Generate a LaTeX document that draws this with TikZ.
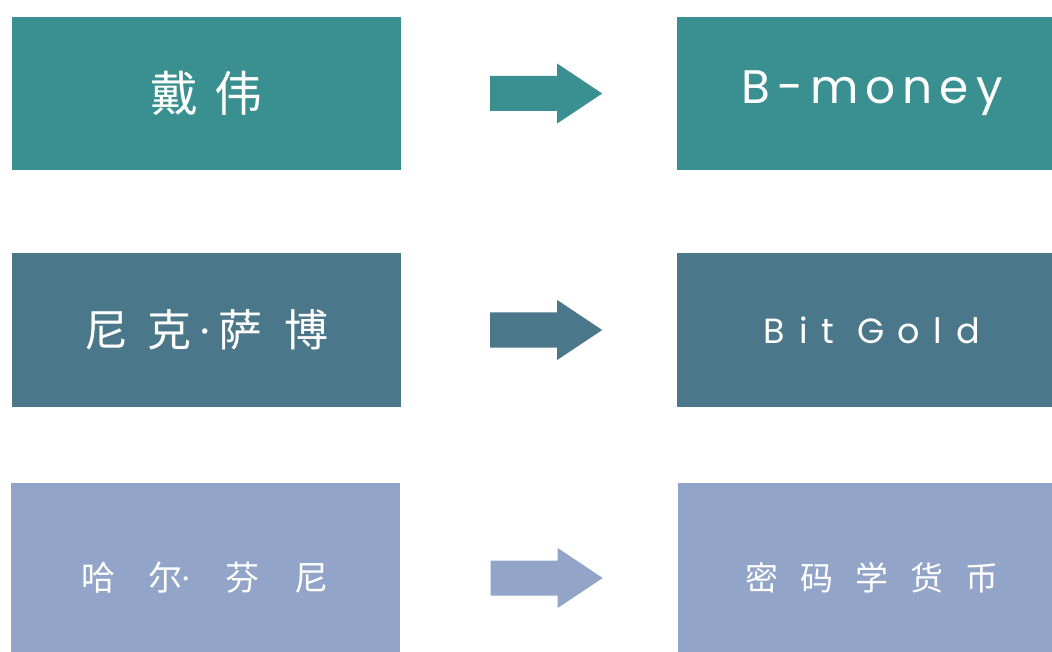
\documentclass[tikz,border=0pt]{standalone}
\usepackage{fontspec}
\usepackage{tikz}
\usetikzlibrary{positioning}
\newfontfamily\cjkfont{Noto Sans CJK SC}
\newfontfamily\latinfont{Poppins}
\definecolor{tealrow}{HTML}{3A8F90}
\definecolor{slaterow}{HTML}{4A7789}
\definecolor{lilacrow}{HTML}{93A4C9}

\tikzset{
    namebox/.style={minimum width=389pt,minimum height=153pt,inner sep=0pt,text=white},
    blockarrow/.pic={
        \path[pic actions] (0,-17.5) -- (67,-17.5) -- (67,-30) -- (112,0)
            -- (67,30) -- (67,17.5) -- (0,17.5) -- cycle;
    }
}
\newcommand{\zh}[2]{{\cjkfont\fontsize{#1}{#1}\selectfont #2}}
\newcommand{\en}[3]{{\latinfont\fontsize{#1}{#1}\selectfont\addfontfeatures{LetterSpace=#2}#3}}
\newcommand{\middot}{{\latinfont ·}}

\begin{document}
\begin{tikzpicture}[x=1pt,y=-1pt]
    \useasboundingbox (0,0) rectangle (1052,652);
    \clip (0,0) rectangle (1052,652);

    % Wei Dai
    \node[namebox,fill=tealrow] (dai) at (206.5,93.5) {\zh{48}{戴\hspace{16pt}伟}};
    \coordinate[right=89pt of dai] (tail1);
    \pic[fill=tealrow] at (tail1) {blockarrow};
    \node[namebox,fill=tealrow,right=187pt of tail1] (bmoney) {\en{47}{15}{B-money}};

    % Nick Szabo
    \node[namebox,fill=slaterow] (szabo) at (206.5,330)
        {\zh{44}{尼\hspace{19pt}克\hspace{9pt}\middot\hspace{9pt}萨\hspace{22pt}博}};
    \coordinate[right=89pt of szabo] (tail2);
    \pic[fill=slaterow] at (tail2) {blockarrow};
    \node[namebox,fill=slaterow,right=187pt of tail2] (bitgold) {\en{35}{39}{Bit Gold}};

    % Hal Finney
    \node[namebox,fill=lilacrow,minimum height=190pt] (finney) at (205,578)
        {\zh{34}{哈\hspace{33pt}尔\middot\hspace{36pt}芬\hspace{35pt}尼}};
    \coordinate[right=91pt of finney] (tail3);
    \pic[fill=lilacrow] at (tail3) {blockarrow};
    \node[namebox,fill=lilacrow,minimum height=190pt,right=187pt of tail3] (crypto)
        {\zh{33}{密\hspace{22pt}码\hspace{22pt}学\hspace{22pt}货\hspace{22pt}币}};
\end{tikzpicture}
\end{document}
